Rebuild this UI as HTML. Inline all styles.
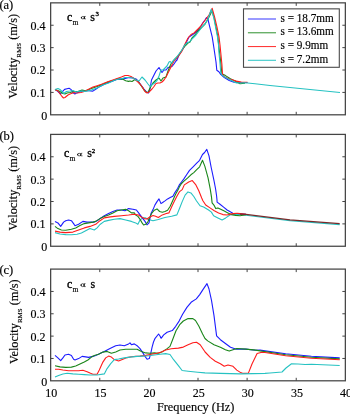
<!DOCTYPE html>
<html><head><meta charset="utf-8"><style>
html,body{margin:0;padding:0;background:#fff;}
body{width:350px;height:414px;overflow:hidden;position:relative;}
svg{position:absolute;left:0;top:0;will-change:transform;}
body{-webkit-font-smoothing:antialiased;}
text{font-family:"Liberation Serif",serif;fill:#000;stroke:#000;stroke-width:0.15px;}
</style></head><body>
<svg width="350" height="414" viewBox="0 0 350 414">
<rect width="350" height="414" fill="#fff"/>

<polyline fill="none" stroke="#1c1cff" stroke-width="1.1" stroke-linejoin="round" points="55.2,89.6 58,91.5 60.6,94 62,92 63.4,90.6 64.6,89.4 67,88.8 69.1,88.3 70.9,89.4 73.1,92.9 74.9,94 76.6,92.9 79.4,92 84.3,90.7 88.6,90.7 92.9,91.1 95.7,89.3 100,86.4 104.3,84.3 108.6,82.6 112.9,81.1 117.1,79.3 121.4,79.3 124.3,78.6 129,77.5 133,78 136,79 138,81 141,85 144,89 146.5,92 148.5,93 150,89 151.5,80 154,75 156,71 159,67.5 161,71 162,72.5 164,70 166,70 168,67.5 170,67 172,66.5 174,64 176,61 177,60 179,55 181,52 184,47 186,43 189,37 192,35 195,33 198,30 201,26 203,22.5 205,20 206.5,17.5 208,19.5 209.8,27.2 212.2,36.9 214,48.5 216,62 216.8,70.2 218.9,71.7 220.7,74.4 224.3,77.5 229.2,80.5 234,82.3 240,82.5 245,82.5 247.5,82.5"/>
<polyline fill="none" stroke="#1a861a" stroke-width="1.1" stroke-linejoin="round" points="55,89.5 59,91 63,93.5 65,94 67,93 70,92.5 74,91.5 78,91.5 82,90 85.7,90.7 91.4,88.6 97.1,86.4 102.9,84.3 108.6,81.7 114.3,80 118.6,78.6 122.9,79.3 125.7,80.7 128.6,81.4 130,81 132,81.5 135,79.5 138,81.5 141,85.5 144,90 146,92 148,92.5 150,88 153,83 156,80 159,78 161,81 163,78 166,77 168,71 170,66 171.5,63 174,60 176,58 178,56 180,53 182,50 185,46 188,43 190,42 192,38 195,35 198,31 202,27 205,24 208,19 211,13 211.8,9.8 214,17.5 216,27.2 217.9,36.9 219,48 220.5,60 221.9,73.8 225.5,75.6 230.4,78.7 236.4,81.7 240,83.7 245,83.3"/>
<polyline fill="none" stroke="#ff1c1c" stroke-width="1.1" stroke-linejoin="round" points="55,89.5 58,91 62,96.5 63.5,98 65,97.5 68,95 70,94 74,92.5 77,93 81,92.5 84.3,91.4 88.6,89.3 92.9,87.1 97.1,85.7 101.4,84.3 107.1,82.1 112.9,80 117.1,78.6 121.4,77.1 125,75.5 128,75.5 131,76.5 134,78.5 137,81 140,84 143,88 145,91.5 147,93 149,92 152,89 154,86.5 156,83.5 158,83 160,83 162,82 164,80 166,77 168,73 170,69 172,65 174,61 177,58 180,54 182,51 185,44 188,38 191,34.5 194,33 197,30 200,27 203,23 206,19 209,15 212.2,8.3 214.7,17.5 217,27.2 219,36.9 220,45 220.7,52.1 221.9,64.2 222.5,74.4 224.9,76.9 230.4,79.3 236.4,81.1 241.3,82.1 247.5,82.2"/>
<polyline fill="none" stroke="#26c2c2" stroke-width="1.1" stroke-linejoin="round" points="55,89.5 58,88.5 60,89.5 62,91.5 64,93.5 65,92.5 66.5,91.5 70,91 73,90.5 76,92 80,91 85.7,91.4 91.4,90 97.1,87.9 102.9,85 108.6,82.9 114.3,80.3 118.6,78.9 122.9,78.3 125,77.5 129,77.5 133,78 136,80 139,81 142,77 145,80 148,84 150,86.5 151.5,85 154,83.5 157,80.5 159,76 160,73 161,70 163,70 165,68 167,66 169,62 170,61.5 172,63 173,61 176,58 179,54 182,50 184,46 187,43 190,41.5 193,38 196,35 199,31 202,27 205,24 208,19 211.3,9.3 213.7,17.5 215.6,27.2 217.5,36.9 218.5,45 218.9,52.1 220.1,64.2 220.7,72.6 221.9,75 225.5,77.5 231.6,80.5 236.4,82.9 240,83 245,82.8 255,83.8 270,85.5 315,90 340,92.5"/>
<rect x="50.65" y="2.85" width="294.70000000000005" height="111.95" fill="none" stroke="#444" stroke-width="1.25"/>
<path d="M99.76666666666668,114.8v-3M99.76666666666668,2.85v3M148.88333333333335,114.8v-3M148.88333333333335,2.85v3M198.00000000000003,114.8v-3M198.00000000000003,2.85v3M247.1166666666667,114.8v-3M247.1166666666667,2.85v3M296.23333333333335,114.8v-3M296.23333333333335,2.85v3M50.65,92.41h3M345.35,92.41h-3M50.65,70.02h3M345.35,70.02h-3M50.65,47.63h3M345.35,47.63h-3M50.65,25.24h3M345.35,25.24h-3" stroke="#444" stroke-width="1" fill="none"/>
<text x="47.2" y="119.60" font-size="12" text-anchor="end">0</text>
<text x="45.4" y="96.81" font-size="12" text-anchor="end">0.1</text>
<text x="45.4" y="74.42" font-size="12" text-anchor="end">0.2</text>
<text x="45.4" y="52.03" font-size="12" text-anchor="end">0.3</text>
<text x="45.4" y="29.64" font-size="12" text-anchor="end">0.4</text>
<text x="-0.6" y="9.0" font-size="12.5">(a)</text>
<text transform="translate(17.4,98.7) rotate(-90)" font-size="12.3">Velocity<tspan font-size="7" dy="3.5">RMS</tspan><tspan dy="-3.5"> (m/s)</tspan></text>
<text x="66.90" y="20.50" font-size="12" style="stroke-width:0.35px">c</text>
<text x="72.40" y="24.50" font-size="7.5">m</text>
<ellipse cx="82.84" cy="17.70" rx="1.51" ry="1.22" fill="none" stroke="#000" stroke-width="0.6"/>
<path d="M81.44,17.02V18.38" stroke="#000" stroke-width="0.9"/>
<path d="M84.46,16.41L84.30,18.99" stroke="#000" stroke-width="1.0"/>
<path d="M84.30,18.89L86.00,18.89M84.46,16.61L85.76,16.41" stroke="#000" stroke-width="0.55"/>
<text x="90.20" y="20.50" font-size="12" style="stroke-width:0.3px">s</text>
<text x="95.50" y="16.40" font-size="6.8" style="stroke-width:0.35px">3</text>
<polyline fill="none" stroke="#26c2c2" stroke-width="1.1" stroke-linejoin="round" points="55,232.6 60,234 65.7,234.6 71.4,234.7 77.1,234.3 81.4,232.9 85.7,230.7 90,228.6 92.1,229.3 94.3,230 97.1,227.9 100,224.5 104.3,221.4 108.6,220.4 114.3,219.3 120,218.6 125.7,220 131.4,221.4 135.7,222.9 137.9,224.3 140,220 142.9,217.9 145.7,217.9 148.6,219.5 153,220.8 158.3,219.5 164.9,217.5 171.6,216.2 176.9,214.9 179.6,208.2 182.2,201.6 185.1,195.1 188,191.9 190.9,192.9 193.8,196.5 196.4,200.7 200,205.7 203.6,207.1 208.6,210 211.4,212.1 213.6,215.7 217.9,217.9 222.1,220 225.7,217.9 230,215 232.9,214.3 240,214.5 246,215.2 290,220.6 339.7,224.6"/>
<polyline fill="none" stroke="#1c1cff" stroke-width="1.1" stroke-linejoin="round" points="55,221.4 57.9,222.9 60.7,226.4 63.6,222.1 65.7,220.7 68.6,220 71.4,220.7 73.6,223.6 75,225.7 78.6,224.3 82.9,221.4 87.1,222.1 91.4,222.1 94.3,222.1 97.1,220.7 100,218.6 104.3,215.7 108.6,213.6 112.9,211.4 117.1,210 121.4,210 125,210.7 128.6,208.6 132.9,209.3 136.4,210 138.6,212.9 140.7,215.7 142.9,218.6 145,221.4 147,224.8 149,222.8 151,213.5 153,209.6 155,204.9 157,201.6 159,198.9 161,203.6 163,202.2 165,200.9 167.6,198.9 170.2,197.6 172.9,196.3 174.9,192.6 177.6,188.5 179.3,184.9 181.5,182 183.7,179.1 186.6,174.8 189.5,170.4 193.1,166.8 196.7,163.2 199.6,160.3 202.5,154.5 204.6,152.5 206.8,149.4 209,155.9 211.2,167.5 214,180.6 215.6,189 216.6,196 217,200 217.1,202.1 220,204.3 223.6,207.1 227.1,210 230.7,212.1 232.9,213.3 237.1,213.5 240,213.8 246,214.4"/>
<polyline fill="none" stroke="#1a861a" stroke-width="1.1" stroke-linejoin="round" points="55,226.4 57.9,228.6 61.4,230 65.7,230.3 71.4,229.3 75.7,227.9 80,225.4 84.3,223.6 88.6,222.9 92.9,222.1 95.7,221.4 100,218.6 104.3,216.4 108.6,215 112.9,212.9 117.1,210.7 121.4,210 125.7,209.3 128.6,210.7 131.4,212.9 134.3,212.9 135.7,215 137.9,216.4 140,219.3 142.1,222.9 143.6,225 145.7,224.3 147.7,222.2 149.7,217.5 151.6,213.5 154.3,210.2 157,208.9 159.6,211.5 162.3,212.2 164.9,211.5 167.6,210.2 170.2,206.2 172.9,200.2 175.6,194.3 178.2,189.6 179.6,186.4 181.5,183.5 183.7,181.3 188,177.7 190.9,174.8 193.8,172.6 196.7,169.7 199.6,166.8 202.5,160.3 204.8,166.1 208,177.7 210.3,189.3 211.5,197.1 212.1,202.9 214.3,205.7 215.7,208.6 217.9,207.9 220.7,209.3 224.3,211.1 227.9,212.9 231.4,214.6 235.7,215.4 240,215.7 246,214.8"/>
<polyline fill="none" stroke="#ff1c1c" stroke-width="1.1" stroke-linejoin="round" points="55,231.1 60,232.1 65.7,232.6 72.9,232.1 78.6,230 84.3,227.9 90,226.4 95.7,224.3 100,220.7 104.3,217.9 108.6,217.1 114.3,216.4 121.4,215.7 128.6,215 134.3,214.3 138.6,215 141.4,217.1 144.3,218.6 147.1,219 149,217.5 153,215.5 155.6,216.2 158.3,217.5 162.3,214.9 166.3,213.5 168.9,212.9 171.6,206.9 174.2,201.6 176.9,196.3 179.6,191.6 182.2,189.6 184.3,184.9 188.7,182 192.3,180.6 195.9,184.9 198.8,190.7 201.7,198 202.9,200.7 205.7,205 210,207.9 214.3,210.7 218.6,212.9 222.9,214.6 227.1,215 230,214.3 232.9,213.6 237.1,213.3 240,213.6 246,214.3"/>
<polyline fill="none" stroke="#7a2a2a" stroke-width="1.3" points="240,214.2 246,214.4 290,219.8 339.7,223.6"/>
<rect x="50.65" y="134.4" width="294.70000000000005" height="111.85" fill="none" stroke="#444" stroke-width="1.25"/>
<path d="M99.76666666666668,246.25v-3M99.76666666666668,134.4v3M148.88333333333335,246.25v-3M148.88333333333335,134.4v3M198.00000000000003,246.25v-3M198.00000000000003,134.4v3M247.1166666666667,246.25v-3M247.1166666666667,134.4v3M296.23333333333335,246.25v-3M296.23333333333335,134.4v3M50.65,223.88h3M345.35,223.88h-3M50.65,201.51h3M345.35,201.51h-3M50.65,179.14h3M345.35,179.14h-3M50.65,156.77h3M345.35,156.77h-3" stroke="#444" stroke-width="1" fill="none"/>
<text x="47.2" y="251.05" font-size="12" text-anchor="end">0</text>
<text x="45.4" y="228.28" font-size="12" text-anchor="end">0.1</text>
<text x="45.4" y="205.91" font-size="12" text-anchor="end">0.2</text>
<text x="45.4" y="183.54" font-size="12" text-anchor="end">0.3</text>
<text x="45.4" y="161.17" font-size="12" text-anchor="end">0.4</text>
<text x="-0.6" y="139.5" font-size="12.5">(b)</text>
<text transform="translate(17.1,230.7) rotate(-90)" font-size="12.3">Velocity<tspan font-size="7" dy="3.5">RMS</tspan><tspan dy="-3.5"> (m/s)</tspan></text>
<text x="64.00" y="157.20" font-size="12" style="stroke-width:0.35px">c</text>
<text x="69.50" y="161.20" font-size="7.5">m</text>
<ellipse cx="79.19" cy="154.60" rx="1.62" ry="1.30" fill="none" stroke="#000" stroke-width="0.6"/>
<path d="M77.68,153.88V155.32" stroke="#000" stroke-width="0.9"/>
<path d="M80.93,153.23L80.75,155.97" stroke="#000" stroke-width="1.0"/>
<path d="M80.75,155.86L82.60,155.86M80.93,153.45L82.32,153.23" stroke="#000" stroke-width="0.55"/>
<text x="87.30" y="157.20" font-size="12" style="stroke-width:0.3px">s</text>
<text x="91.80" y="153.10" font-size="6.8" style="stroke-width:0.35px">2</text>
<polyline fill="none" stroke="#1c1cff" stroke-width="1.1" stroke-linejoin="round" points="55,355.4 57.9,357.9 60.7,360.7 62.9,357.9 65,355 68.6,354.3 71.4,355.4 73.6,359.3 75,360 78.6,358.6 82.1,356.4 85.7,356.9 88.6,357.4 92.9,356.4 95.7,355.4 100,353.6 104.3,351.4 110,348.6 115.7,345.7 120,345 124.3,345.7 128.6,343.9 130,342.9 131.4,344.7 134.3,343.9 137.1,345.7 140,348.6 142.9,352.9 145,356.4 147.1,359.3 149.3,358.6 150.7,353.6 152.1,347.1 153.5,342 155.1,338.3 158.6,334 160,336 161.1,338.3 163.7,334.9 167.1,332.3 172.3,330.6 175.7,326.3 179.1,321.1 182.6,314.3 186.9,307.4 191.1,302.3 196.3,298.9 199.7,294.6 203.1,289.4 207,283.6 209,289 211.5,300.4 214,315.6 216.6,335.9 220.4,339.7 225.4,343.5 230.5,347.3 235.6,349.1 245.7,349.1 255.9,350.3 260,350.1 285.7,353.7 311.4,356.3 339.7,357.9"/>
<polyline fill="none" stroke="#1a861a" stroke-width="1.1" stroke-linejoin="round" points="55,365.7 60,366.9 65.7,367.4 71.4,367.1 75.7,366 80,364 84.3,362.1 87.9,360 91.4,357.1 94.3,355.5 98.6,354.3 102.9,352.1 107.1,351.4 111.4,353.3 115.7,351.9 120,350 125.7,349.3 131.4,349.3 137.1,349.3 141.4,351.4 145.7,352.9 150,353.3 154.3,352.9 158.6,353.3 162.9,351.4 167.1,348.6 170,346.4 172.4,340.3 176,330.7 179.7,324.7 183.3,321 188.1,318.6 192.9,318.6 195.5,320.5 198.8,326 202.6,334 205,338.5 207.7,340.9 214,344.7 220.4,347.3 225.4,349.8 229.2,351.1 236.8,348.5 245.7,349.1 255.9,350.1 260,350.9 285.7,354.7 311.4,357.3 339.7,358.9"/>
<polyline fill="none" stroke="#ff1c1c" stroke-width="1.1" stroke-linejoin="round" points="55,369.3 58.6,369.3 62.9,370 68.6,370.7 74.3,370.7 78.6,370.7 82.9,370.3 87.1,371.7 90,373.1 92.9,374.3 97.1,374.3 99.3,370 102.9,362.1 105.7,357.9 108.6,356.1 111.4,357.1 114.3,359.6 118.6,361 122.9,359.3 127.1,357.6 131.4,356.7 135.7,356.4 140,356.1 145.7,355.4 151.4,354.3 157.1,353.3 161.4,351.9 165.7,350 171.2,348.8 178.4,348.1 183.3,347.1 188.1,344.7 192.9,342.8 196.5,342.3 200.2,344.7 205.1,352 210.2,357.4 215.3,361.2 220.4,363.8 224.2,366.3 228,365 233,366.3 236.8,370.1 240.7,372.6 243.2,373.4 248.3,373.4 252.1,363.8 257.1,353.6 260.9,352.4 265,352.5 285.7,355.7 311.4,358.2 339.7,359.8"/>
<polyline fill="none" stroke="#26c2c2" stroke-width="1.1" stroke-linejoin="round" points="55,377.1 58.6,375.4 62.9,374 67.1,373.3 72.9,373.9 78.6,374.3 84.3,374.6 90,375 97.1,375 104.3,373.9 107.1,368.6 110.7,363.6 114.3,359.6 118.6,359 124.3,357.9 130,357.1 137.1,356.4 142.9,356.1 148.6,355.7 154.3,355 160,354.3 165.7,353.6 170,354.5 173.6,359.7 178.4,365.7 182.1,370.5 188.1,371.2 197.8,372.2 205,372.9 220.4,373.4 240.7,373.9 265,373.4 270,373 282,372 286,368 291.5,363.8 298,364 305,364.5 311.4,364.2 339.7,365.5"/>
<rect x="50.65" y="269.1" width="294.70000000000005" height="111.69999999999999" fill="none" stroke="#444" stroke-width="1.25"/>
<path d="M99.76666666666668,380.8v-3M99.76666666666668,269.1v3M148.88333333333335,380.8v-3M148.88333333333335,269.1v3M198.00000000000003,380.8v-3M198.00000000000003,269.1v3M247.1166666666667,380.8v-3M247.1166666666667,269.1v3M296.23333333333335,380.8v-3M296.23333333333335,269.1v3M50.65,358.46h3M345.35,358.46h-3M50.65,336.12h3M345.35,336.12h-3M50.65,313.78h3M345.35,313.78h-3M50.65,291.44h3M345.35,291.44h-3" stroke="#444" stroke-width="1" fill="none"/>
<text x="47.2" y="385.60" font-size="12" text-anchor="end">0</text>
<text x="45.4" y="362.86" font-size="12" text-anchor="end">0.1</text>
<text x="45.4" y="340.52" font-size="12" text-anchor="end">0.2</text>
<text x="45.4" y="318.18" font-size="12" text-anchor="end">0.3</text>
<text x="45.4" y="295.84" font-size="12" text-anchor="end">0.4</text>
<text x="-0.6" y="273.8" font-size="12.5">(c)</text>
<text transform="translate(18.4,364.1) rotate(-90)" font-size="12.3">Velocity<tspan font-size="7" dy="3.5">RMS</tspan><tspan dy="-3.5"> (m/s)</tspan></text>
<text x="67.10" y="287.90" font-size="12" style="stroke-width:0.35px">c</text>
<text x="72.60" y="291.90" font-size="7.5">m</text>
<ellipse cx="82.58" cy="285.15" rx="1.54" ry="1.48" fill="none" stroke="#000" stroke-width="0.6"/>
<path d="M81.15,284.33V285.97" stroke="#000" stroke-width="0.9"/>
<path d="M84.23,283.59L84.06,286.71" stroke="#000" stroke-width="1.0"/>
<path d="M84.06,286.58L85.80,286.58M84.23,283.84L85.55,283.59" stroke="#000" stroke-width="0.55"/>
<text x="90.40" y="287.90" font-size="12" style="stroke-width:0.3px">s</text>
<text x="51.35" y="397.40" font-size="12" text-anchor="middle">10</text>
<text x="100.47" y="397.40" font-size="12" text-anchor="middle">15</text>
<text x="149.58" y="397.40" font-size="12" text-anchor="middle">20</text>
<text x="198.70" y="397.40" font-size="12" text-anchor="middle">25</text>
<text x="247.82" y="397.40" font-size="12" text-anchor="middle">30</text>
<text x="296.93" y="397.40" font-size="12" text-anchor="middle">35</text>
<text x="346.05" y="397.40" font-size="12" text-anchor="middle">40</text>
<text transform="translate(195.6,410.6) scale(1,1.07)" font-size="12.3" text-anchor="middle">Frequency (Hz)</text>
<rect x="243.5" y="8.85" width="95.8" height="58.45" fill="#fff" stroke="#4a4a4a" stroke-width="1.1"/>
<line x1="247.9" x2="276" y1="19.00" y2="19.00" stroke="#4848ff" stroke-width="1.1"/>
<text transform="translate(280.5,21.65) scale(1,1.1)" font-size="11.2">s = 18.7mm</text>
<line x1="247.9" x2="276" y1="32.77" y2="32.77" stroke="#409a40" stroke-width="1.1"/>
<text transform="translate(280.5,35.42) scale(1,1.1)" font-size="11.2">s = 13.6mm</text>
<line x1="247.9" x2="276" y1="46.54" y2="46.54" stroke="#ff3a3a" stroke-width="1.1"/>
<text transform="translate(280.5,49.19) scale(1,1.1)" font-size="11.2">s = 9.9mm</text>
<line x1="247.9" x2="276" y1="60.31" y2="60.31" stroke="#3ccaca" stroke-width="1.1"/>
<text transform="translate(280.5,62.96) scale(1,1.1)" font-size="11.2">s = 7.2mm</text>
</svg></body></html>
